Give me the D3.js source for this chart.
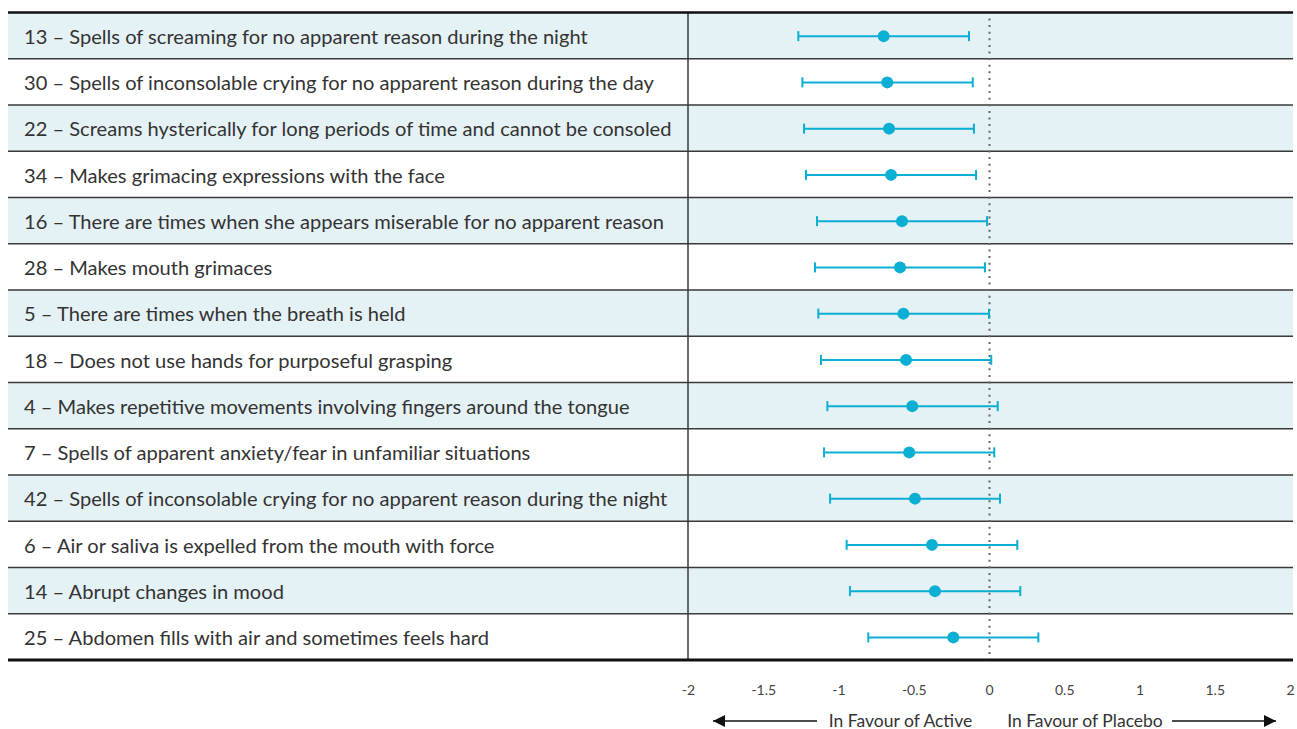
<!DOCTYPE html>
<html><head><meta charset="utf-8">
<script src="https://cdn.jsdelivr.net/npm/d3@7"></script>
<style>body{margin:0;background:#fff;} svg{display:block;}</style>
</head><body>
<svg id="chart" width="1297" height="729"></svg>
<script>
const categories = [
 "13 – Spells of screaming for no apparent reason during the night",
 "30 – Spells of inconsolable crying for no apparent reason during the day",
 "22 – Screams hysterically for long periods of time and cannot be consoled",
 "34 – Makes grimacing expressions with the face",
 "16 – There are times when she appears miserable for no apparent reason",
 "28 – Makes mouth grimaces",
 "5 – There are times when the breath is held",
 "18 – Does not use hands for purposeful grasping",
 "4 – Makes repetitive movements involving fingers around the tongue",
 "7 – Spells of apparent anxiety/fear in unfamiliar situations",
 "42 – Spells of inconsolable crying for no apparent reason during the night",
 "6 – Air or saliva is expelled from the mouth with force",
 "14 – Abrupt changes in mood",
 "25 – Abdomen fills with air and sometimes feels hard"
];
const estimates = [-0.70,-0.676,-0.664,-0.651,-0.578,-0.591,-0.569,-0.551,-0.51,-0.53,-0.492,-0.379,-0.359,-0.237];
const lower =     [-1.267,-1.24,-1.229,-1.216,-1.143,-1.156,-1.134,-1.116,-1.074,-1.096,-1.056,-0.946,-0.924,-0.802];
const upper =     [-0.133,-0.108,-0.10,-0.086,-0.013,-0.027,0.0,0.015,0.058,0.035,0.073,0.188,0.208,0.328];
const tickValues = [-2,-1.5,-1,-0.5,0,0.5,1,1.5,2];
const tickLabels = ["-2","-1.5","-1","-0.5","0","0.5","1","1.5","2"];
const leftLabel = "In Favour of Active";
const rightLabel = "In Favour of Placebo";

(function(){
const data = categories.map((c,i)=>({cat:c, est:estimates[i], lo:lower[i], hi:upper[i]}));
const svg = d3.select("#chart");
const L = 8, R = 1293, T = 12.5, B = 660, divX = 688;
const x = d3.scaleLinear().domain([-2,2]).range([688,1290]);
const y = d3.scaleBand().domain(categories).range([T,B]);
const blue = "#0aafd3";
const font = "'Source Sans Pro','Lato','Noto Sans',sans-serif";

svg.append("g").selectAll("rect").data(data).join("rect")
  .attr("x", L).attr("y", d=>y(d.cat)).attr("width", R-L).attr("height", y.bandwidth())
  .attr("fill", (d,i)=> i%2===0 ? "#e4f1f5" : "#ffffff");

svg.append("g").selectAll("line").data(data.slice(1)).join("line")
  .attr("x1", L).attr("x2", R)
  .attr("y1", d=>y(d.cat)).attr("y2", d=>y(d.cat))
  .attr("stroke", "#3a3a3a").attr("stroke-width", 1.5);

svg.append("line").attr("x1", divX).attr("x2", divX).attr("y1", T).attr("y2", B)
  .attr("stroke", "#3a3a3a").attr("stroke-width", 1.5);

svg.append("line").attr("x1", x(0)+0.5).attr("x2", x(0)+0.5).attr("y1", T+6).attr("y2", B)
  .attr("stroke", "#666").attr("stroke-width", 2).attr("stroke-dasharray", "2,4.6");

svg.append("line").attr("x1", L).attr("x2", R).attr("y1", T).attr("y2", T)
  .attr("stroke", "#111").attr("stroke-width", 2.5);
svg.append("line").attr("x1", L).attr("x2", R).attr("y1", B).attr("y2", B)
  .attr("stroke", "#111").attr("stroke-width", 3);

svg.append("g").selectAll("text").data(data).join("text")
  .attr("x", 24).attr("y", d=>y(d.cat)+y.bandwidth()/2 + 1)
  .attr("dy", "0.36em")
  .attr("font-family", font).attr("font-size", 20.1).attr("fill", "#333")
  .text(d=>d.cat);

const g = svg.append("g");
const cy = d=>y(d.cat)+y.bandwidth()/2 + 0.5;
g.selectAll(".ci").data(data).join("line").attr("class","ci")
  .attr("x1", d=>x(d.lo)).attr("x2", d=>x(d.hi)).attr("y1", cy).attr("y2", cy)
  .attr("stroke", blue).attr("stroke-width", 2);
g.selectAll(".capL").data(data).join("line").attr("class","capL")
  .attr("x1", d=>x(d.lo)).attr("x2", d=>x(d.lo)).attr("y1", d=>cy(d)-5).attr("y2", d=>cy(d)+5)
  .attr("stroke", blue).attr("stroke-width", 2);
g.selectAll(".capR").data(data).join("line").attr("class","capR")
  .attr("x1", d=>x(d.hi)).attr("x2", d=>x(d.hi)).attr("y1", d=>cy(d)-5).attr("y2", d=>cy(d)+5)
  .attr("stroke", blue).attr("stroke-width", 2);
g.selectAll("circle").data(data).join("circle")
  .attr("cx", d=>x(d.est)).attr("cy", cy).attr("r", 6).attr("fill", blue);

const axis = d3.axisBottom(x).tickValues(tickValues).tickFormat((d,i)=>tickLabels[i]).tickSize(0).tickPadding(0);
const ax = svg.append("g").attr("transform", "translate(0,685)").call(axis);
ax.select(".domain").remove();
ax.selectAll("text").attr("font-family", font).attr("font-size", 14).attr("fill", "#444").attr("dy","0.71em");

const defs = svg.append("defs");
defs.append("marker").attr("id","ah").attr("viewBox","0 0 10 10").attr("refX",10).attr("refY",5)
  .attr("markerWidth",16).attr("markerHeight",12).attr("markerUnits","userSpaceOnUse").attr("orient","auto")
  .append("path").attr("d","M0,0L10,5L0,10Z").attr("fill","#111");
const ay = 721;
svg.append("line").attr("x1", 817).attr("x2", 713).attr("y1", ay).attr("y2", ay)
  .attr("stroke","#111").attr("stroke-width",1.3).attr("marker-end","url(#ah)");
svg.append("line").attr("x1", 1172).attr("x2", 1276).attr("y1", ay).attr("y2", ay)
  .attr("stroke","#111").attr("stroke-width",1.3).attr("marker-end","url(#ah)");
svg.append("text").attr("x", 900.5).attr("y", 726.5).attr("text-anchor","middle")
  .attr("font-family", font).attr("font-size", 17.5).attr("fill","#333").text(leftLabel);
svg.append("text").attr("x", 1085).attr("y", 726.5).attr("text-anchor","middle")
  .attr("font-family", font).attr("font-size", 17.5).attr("fill","#333").text(rightLabel);
})();
</script>
</body></html>
